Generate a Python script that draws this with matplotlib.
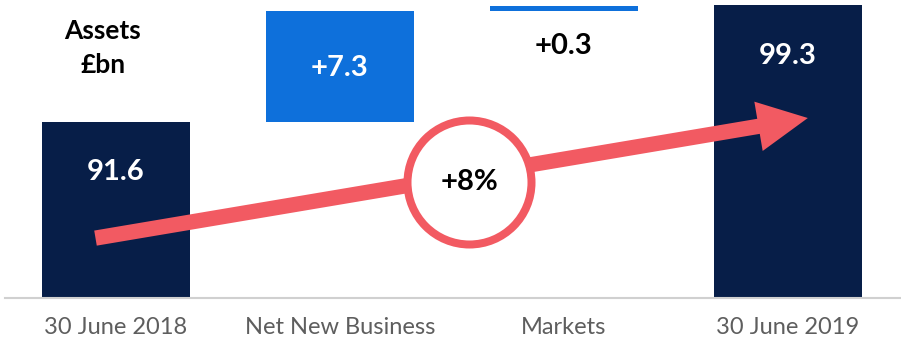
import matplotlib
matplotlib.use("Agg")
from matplotlib import pyplot as plt

# assets bridge, £bn
categories = ["30 June 2018", "Net New Business", "Markets", "30 June 2019"]
start_assets = 91.6
changes = [7.3, 0.3]
end_assets = 99.3
growth_label = "+8%"

NAVY = "#071E48"
BLUE = "#0E70DB"
CORAL = "#F25A62"
GREY = "#5E5E5E"

plt.rcParams["font.family"] = ["Lato", "DejaVu Sans"]

fig = plt.figure(figsize=(9.01, 3.44), dpi=100)
ax = fig.add_axes([5 / 901, 46 / 344, 896 / 901, 298 / 344])

ymin = 80.0
x = list(range(len(categories)))
width = 0.665

# totals at both ends
ax.bar(x[0], start_assets - ymin, bottom=ymin, width=width, color=NAVY)
ax.bar(x[3], end_assets - ymin, bottom=ymin, width=width, color=NAVY)

# floating steps
level = start_assets
for i, d in zip([1, 2], changes):
    ax.bar(x[i], d, bottom=level, width=width, color=BLUE)
    level += d

def px(n):
    return n * 0.72

ax.annotate(f"{start_assets:.1f}", (x[0], start_assets), xytext=(0, -px(50)),
            textcoords="offset points", ha="center", va="center",
            color="white", fontsize=21, fontweight="bold")
ax.annotate(f"{end_assets:.1f}", (x[3], end_assets), xytext=(0, -px(51)),
            textcoords="offset points", ha="center", va="center",
            color="white", fontsize=21, fontweight="bold")
ax.annotate(f"+{changes[0]:.1f}", (x[1], start_assets + changes[0]), xytext=(0, -px(57)),
            textcoords="offset points", ha="center", va="center",
            color="white", fontsize=21, fontweight="bold")
ax.annotate(f"+{changes[1]:.1f}", (x[2], start_assets + changes[0]), xytext=(0, -px(35)),
            textcoords="offset points", ha="center", va="center",
            color="black", fontsize=21, fontweight="bold")

ax.text(0.109, 0.839, "Assets\n£bn", transform=ax.transAxes, ha="center", va="center",
        fontsize=19, fontweight="bold", color="black", linespacing=1.5)

# growth arrow with badge
ax.annotate("", xy=(0.896, 0.604), xytext=(0.101, 0.201), xycoords="axes fraction",
            arrowprops=dict(arrowstyle="simple,head_width=36,head_length=36,tail_width=11",
                            mutation_scale=1, color=CORAL, shrinkA=0, shrinkB=0, lw=0))
ax.scatter([0.518], [0.389], s=(px(124)) ** 2, transform=ax.transAxes, facecolor="white",
           edgecolor=CORAL, linewidth=px(8), zorder=5, clip_on=False)
ax.text(0.518, 0.389, growth_label, transform=ax.transAxes, ha="center", va="center",
        fontsize=21, fontweight="bold", color="black", zorder=6)

ax.set_xlim(-111 / 224, -111 / 224 + 896 / 224)
ax.set_ylim(ymin, 99.6)
ax.set_xticks(x)
ax.set_xticklabels(categories, fontsize=17, color=GREY)
ax.tick_params(axis="x", length=0, pad=14)
ax.set_yticks([])
for side in ["top", "left", "right"]:
    ax.spines[side].set_visible(False)
ax.spines["bottom"].set_color("#D0D0D0")
ax.spines["bottom"].set_linewidth(1.5)

fig.savefig("out.png", dpi=100)
